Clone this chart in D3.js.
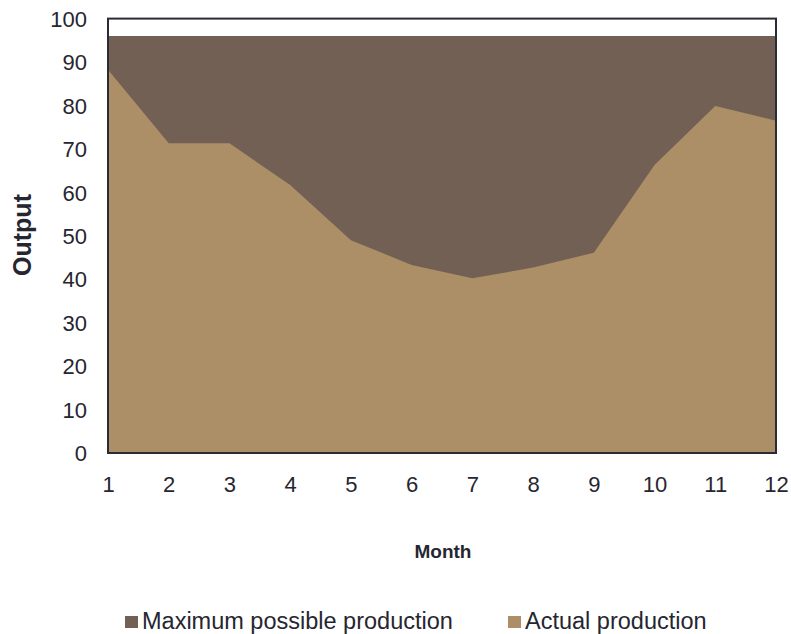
<!DOCTYPE html>
<html>
<head>
<meta charset="utf-8">
<script src="https://cdn.jsdelivr.net/npm/d3@7"></script>
<style>
  html, body { margin: 0; padding: 0; background: #fff; }
  text { font-family: "Liberation Sans", Arial, Helvetica, sans-serif; fill: #262630; }
</style>
</head>
<body>
<svg id="chart" width="791" height="634"></svg>
<script>
// Monthly output: capacity ceiling vs. what was actually produced
const months = [1, 2, 3, 4, 5, 6, 7, 8, 9, 10, 11, 12];
const maxProduction = [96, 96, 96, 96, 96, 96, 96, 96, 96, 96, 96, 96];
const actualProduction = [88.2, 71.3, 71.3, 61.7, 49, 43.3, 40.2, 42.7, 46.1, 66.3, 79.9, 76.5];
const yTicks = [0, 10, 20, 30, 40, 50, 60, 70, 80, 90, 100];
const seriesNames = ["Maximum possible production", "Actual production"];
const seriesColors = ["#726054", "#ac8f67"];

const svg = d3.select("#chart");
const plot = { left: 108, right: 776, top: 18.6, bottom: 453 };

const x = d3.scaleLinear().domain([1, 12]).range([plot.left, plot.right]);
const y = d3.scaleLinear().domain([0, 100]).range([plot.bottom, plot.top]);

const area = (vals) => d3.area()
  .x((d, i) => x(months[i]))
  .y0(y(0))
  .y1(d => y(d))(vals);

// Ceiling drawn first, actual output layered on top
svg.append("path").attr("d", area(maxProduction)).attr("fill", seriesColors[0]);
svg.append("path").attr("d", area(actualProduction)).attr("fill", seriesColors[1]);

// Plot frame
svg.append("rect")
  .attr("x", plot.left).attr("y", plot.top)
  .attr("width", plot.right - plot.left).attr("height", plot.bottom - plot.top)
  .attr("fill", "none").attr("stroke", "#2b2b36").attr("stroke-width", 2);

// Y axis labels
const yAxis = d3.axisLeft(y).tickValues(yTicks).tickSize(0).tickPadding(0);
const gy = svg.append("g").attr("transform", `translate(87,0)`).call(yAxis);
gy.select(".domain").remove();
gy.selectAll("text").style("font-size", "22px").attr("fill", "#262630").attr("dy", "0.35em");

// X axis labels
const xAxis = d3.axisBottom(x).tickValues(months).tickSize(0).tickPadding(0).tickFormat(d3.format("d"));
const gx = svg.append("g").attr("transform", `translate(0,476)`).call(xAxis);
gx.select(".domain").remove();
gx.selectAll("text").style("font-size", "22px").attr("fill", "#262630").attr("dy", "0.71em");

// Axis titles
svg.append("text")
  .attr("transform", "translate(31,235) rotate(-90)")
  .attr("text-anchor", "middle")
  .style("font-size", "25px").style("font-weight", "bold")
  .text("Output");

svg.append("text")
  .attr("x", 443).attr("y", 558)
  .attr("text-anchor", "middle")
  .style("font-size", "19px").style("font-weight", "bold")
  .text("Month");

// Legend
const legendItems = [
  { name: seriesNames[0], color: seriesColors[0], x: 125 },
  { name: seriesNames[1], color: seriesColors[1], x: 508 }
];
const lg = svg.append("g");
legendItems.forEach(item => {
  lg.append("rect").attr("x", item.x).attr("y", 616).attr("width", 13).attr("height", 12).attr("fill", item.color);
  lg.append("text").attr("x", item.x + 17).attr("y", 629)
    .style("font-size", "23.5px").text(item.name);
});
</script>
</body>
</html>
